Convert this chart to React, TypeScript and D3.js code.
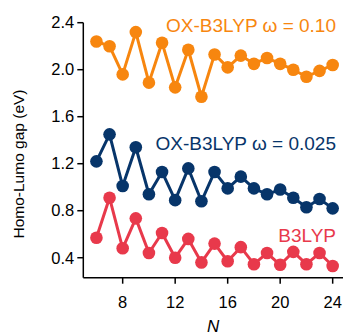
import React from 'react';
import * as d3 from 'd3';

const nValues = [6, 7, 8, 9, 10, 11, 12, 13, 14, 15, 16, 17, 18, 19, 20, 21, 22, 23, 24];
const ox010 = [2.24, 2.2, 1.96, 2.32, 1.89, 2.23, 1.85, 2.17, 1.77, 2.13, 2.02, 2.12, 2.05, 2.1, 2.05, 2.0, 1.94, 1.99, 2.04];
const ox0025 = [1.22, 1.45, 1.01, 1.34, 0.94, 1.13, 0.89, 1.16, 0.88, 1.13, 0.99, 1.09, 0.99, 0.94, 0.98, 0.91, 0.83, 0.9, 0.82];
const b3lyp = [0.57, 0.91, 0.48, 0.735, 0.44, 0.61, 0.4, 0.56, 0.36, 0.52, 0.37, 0.49, 0.345, 0.44, 0.34, 0.45, 0.345, 0.44, 0.33];
const yTicks = [0.4, 0.8, 1.2, 1.6, 2.0, 2.4];
const xTicks = [8, 12, 16, 20, 24];

const series = [
  { name: 'OX-B3LYP ω = 0.10', values: ox010, color: '#f7860f', labelY: 32 },
  { name: 'OX-B3LYP ω = 0.025', values: ox0025, color: '#07356a', labelY: 150 },
  { name: 'B3LYP', values: b3lyp, color: '#e8394b', labelY: 242 },
];

const width = 343;
const height = 336;
const font = '"Liberation Sans", Arial, sans-serif';

export default function App() {
  const x = d3.scaleLinear().domain([5, 25]).range([83.3, 345.8]);
  const y = d3.scaleLinear().domain([0.23, 2.4]).range([277.7, 22.7]);
  const line = d3
    .line<number>()
    .x((_, i) => x(nValues[i]))
    .y((d) => y(d));

  return (
    <svg
      width={width}
      height={height}
      style={{ position: 'absolute', left: 0, top: 0, background: '#fff' }}
      fontFamily={font}
    >
      {/* series */}
      {series.map((s) => (
        <g key={s.name}>
          <path d={line(s.values) || ''} fill="none" stroke={s.color} strokeWidth={3} strokeLinejoin="round" />
          {s.values.map((v, i) => (
            <circle key={i} cx={x(nValues[i])} cy={y(v)} r={6.3} fill={s.color} />
          ))}
          <text x={336} y={s.labelY} textAnchor="end" fontSize={19} fill={s.color}>
            {s.name}
          </text>
        </g>
      ))}

      {/* y axis */}
      <line x1={x(5)} x2={x(5)} y1={y(2.4)} y2={y(0.23)} stroke="#000" strokeWidth={1.5} />
      {yTicks.map((t) => (
        <g key={t} transform={`translate(${x(5)},${y(t)})`}>
          <line x1={-6} x2={0} stroke="#000" strokeWidth={1.5} />
          <text x={-9} dy="0.35em" textAnchor="end" fontSize={16.5} fill="#000">
            {t.toFixed(1)}
          </text>
        </g>
      ))}
      <text
        transform={`translate(19,164) rotate(-90)`}
        textAnchor="middle"
        dy="0.35em"
        fontSize={15.5}
        fill="#000"
      >
        Homo-Lumo gap (eV)
      </text>

      {/* x axis */}
      <line x1={x(5)} x2={x(25)} y1={y(0.23)} y2={y(0.23)} stroke="#000" strokeWidth={1.5} />
      {xTicks.map((t) => (
        <g key={t} transform={`translate(${x(t)},${y(0.23)})`}>
          <line y1={0} y2={6} stroke="#000" strokeWidth={1.5} />
          <text y={30.5} textAnchor="middle" fontSize={16.5} fill="#000">
            {t}
          </text>
        </g>
      ))}
      <text x={x(14.9)} y={332} textAnchor="middle" fontSize={17} fontStyle="italic" fill="#000">
        N
      </text>
    </svg>
  );
}
